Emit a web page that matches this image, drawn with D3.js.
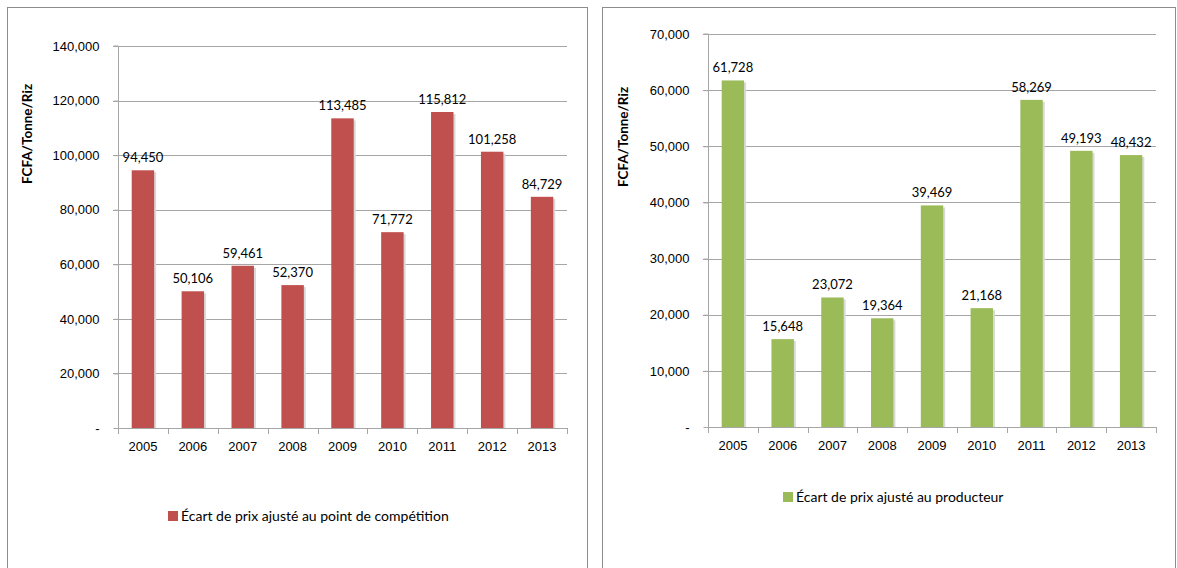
<!DOCTYPE html>
<html>
<head>
<meta charset="utf-8">
<script src="https://cdn.jsdelivr.net/npm/d3@7"></script>
<style>
  body { margin: 0; background: #fff; }
  svg { font-family: Lato, "Open Sans", sans-serif; }
</style>
</head>
<body>
<div id="chart"></div>
<script>
// data
var years = ["2005", "2006", "2007", "2008", "2009", "2010", "2011", "2012", "2013"];
var competitionGap = [94450, 50106, 59461, 52370, 113485, 71772, 115812, 101258, 84729];
var producerGap = [61728, 15648, 23072, 19364, 39469, 21168, 58269, 49193, 48432];
var leftTicks = [0, 20000, 40000, 60000, 80000, 100000, 120000, 140000];
var rightTicks = [0, 10000, 20000, 30000, 40000, 50000, 60000, 70000];
var yTitle = "FCFA/Tonne/Riz";
var leftLegend = "Écart de prix ajusté au point de compétition";
var rightLegend = "Écart de prix ajusté au producteur";

var fmt = d3.format(",");

const svg = d3.select("#chart")
    .append("svg")
    .attr("width", 1177)
    .attr("height", 568);

// one panel = one chart box
function drawPanel(opts) {
    var g = svg.append("g");

    g.append("rect")
        .attr("x", opts.box[0] + 0.5)
        .attr("y", opts.box[1] + 0.5)
        .attr("width", opts.box[2])
        .attr("height", 600)
        .attr("fill", "white")
        .attr("stroke", "#8c8c8c");

    var x = d3.scaleBand()
        .domain(years)
        .range([opts.left, opts.right])
        .paddingInner(0.55)
        .paddingOuter(0.275);

    var y = d3.scaleLinear()
        .domain([0, d3.max(opts.ticks)])
        .range([opts.bottom, opts.top]);

    // gridlines
    g.append("g")
        .selectAll("line")
        .data(opts.ticks.slice(1))
        .enter()
        .append("line")
        .attr("x1", opts.left - 5)
        .attr("x2", opts.right)
        .attr("y1", function(d) { return Math.round(y(d)) + 0.5; })
        .attr("y2", function(d) { return Math.round(y(d)) + 0.5; })
        .attr("stroke", "#a6a6a6")
        .attr("stroke-width", 1);

    // y axis
    var yAxis = g.append("g")
        .attr("transform", "translate(" + (opts.left + 0.5) + ",0)")
        .call(d3.axisLeft(y).tickValues(opts.ticks).tickSize(5).tickPadding(14)
            .tickFormat(function(d) { return d === 0 ? "-" : fmt(d); }));
    yAxis.select(".domain").attr("stroke", "#a6a6a6").attr("d", "M-5," + opts.top + "H0V" + opts.bottom);
    yAxis.selectAll(".tick line").attr("stroke", "#a6a6a6");
    yAxis.selectAll("text")
        .style("font-size", "13px")
        .style("fill", "#000");

    // bars (with a faint shadow)
    g.append("g")
        .selectAll("rect")
        .data(opts.values)
        .enter()
        .append("rect")
        .attr("x", function(d, i) { return x(years[i]) + 2; })
        .attr("y", function(d) { return y(d) + 2; })
        .attr("width", x.bandwidth())
        .attr("height", function(d) { return opts.bottom - y(d) - 2; })
        .attr("fill", "#d9d9d9");

    g.append("g")
        .selectAll("rect")
        .data(opts.values)
        .enter()
        .append("rect")
        .attr("x", function(d, i) { return x(years[i]); })
        .attr("y", function(d) { return y(d); })
        .attr("width", x.bandwidth())
        .attr("height", function(d) { return opts.bottom - y(d); })
        .attr("fill", opts.color);

    // data labels
    g.append("g")
        .selectAll("text")
        .data(opts.values)
        .enter()
        .append("text")
        .attr("x", function(d, i) { return x(years[i]) + x.bandwidth() / 2; })
        .attr("y", function(d) { return y(d) - 8; })
        .attr("text-anchor", "middle")
        .style("font-size", "13px")
        .text(function(d) { return fmt(d); });

    // x axis
    var xAxis = g.append("g")
        .attr("transform", "translate(0," + (opts.bottom + 0.5) + ")")
        .call(d3.axisBottom(x).tickSize(0).tickPadding(13));
    xAxis.select(".domain").attr("stroke", "#a6a6a6").attr("d", "M" + opts.left + ",0H" + opts.right);
    xAxis.selectAll("text")
        .style("font-size", "13px")
        .style("fill", "#000");

    var step = x.step();
    g.append("g")
        .selectAll("line")
        .data(d3.range(years.length + 1))
        .enter()
        .append("line")
        .attr("x1", function(i) { return Math.round(opts.left + i * step) + 0.5; })
        .attr("x2", function(i) { return Math.round(opts.left + i * step) + 0.5; })
        .attr("y1", opts.bottom)
        .attr("y2", opts.bottom + 6)
        .attr("stroke", "#a6a6a6");

    // y title
    g.append("text")
        .attr("transform", "translate(" + opts.titleX + "," + opts.titleY + ")rotate(-90)")
        .attr("text-anchor", "middle")
        .style("font-size", "13.5px")
        .style("font-weight", "bold")
        .text(yTitle);

    // legend
    g.append("rect")
        .attr("x", opts.legend[0])
        .attr("y", opts.legend[1] - 10)
        .attr("width", 10)
        .attr("height", 10)
        .attr("fill", opts.color);
    g.append("text")
        .attr("x", opts.legend[0] + 13)
        .attr("y", opts.legend[1])
        .style("font-size", "14px")
        .text(opts.legendText);
}

drawPanel({
    box: [7, 7, 580],
    left: 118, right: 567, top: 46, bottom: 428,
    ticks: leftTicks, values: competitionGap, color: "#c0504d",
    titleX: 32, titleY: 134,
    legend: [168, 521], legendText: leftLegend
});

drawPanel({
    box: [602, 7, 573],
    left: 708, right: 1156, top: 34, bottom: 427,
    ticks: rightTicks, values: producerGap, color: "#9bbb59",
    titleX: 628, titleY: 137,
    legend: [783, 502], legendText: rightLegend
});
</script>
</body>
</html>
